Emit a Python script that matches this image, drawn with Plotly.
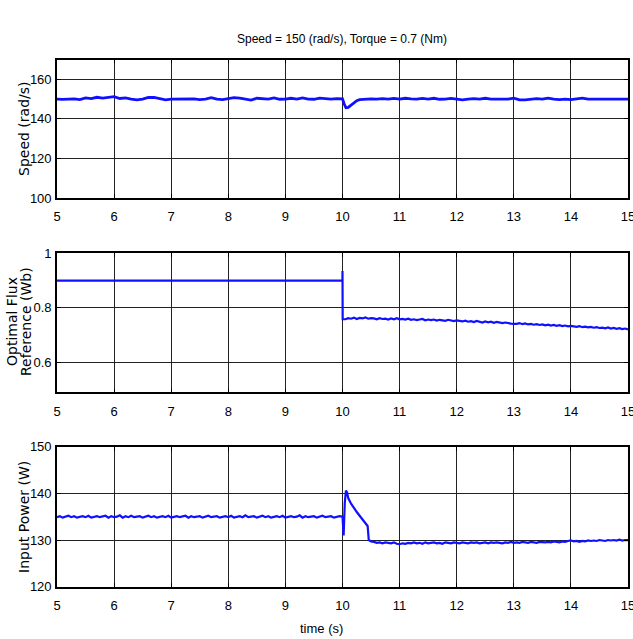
import numpy as np
import plotly.graph_objects as go
from plotly.subplots import make_subplots

# ---------------- data ----------------
title_text = "Speed = 150 (rad/s), Torque = 0.7 (Nm)"
x_ticks = [5, 6, 7, 8, 9, 10, 11, 12, 13, 14, 15]

speed_t_pre = [round(5.0 + 0.1 * i, 2) for i in range(50)]
speed_v_pre = [150.0, 149.8, 150.0, 150.1, 149.7, 150.6, 150.2, 150.9, 150.5, 150.8,
               151.2, 150.3, 150.6, 150.0, 149.6, 150.0, 150.8, 150.9, 150.2, 149.6,
               150.0, 150.0, 149.8, 150.0, 150.1, 149.7, 150.0, 150.7, 150.0, 149.7,
               150.2, 150.7, 150.5, 150.0, 149.5, 150.4, 150.3, 150.0, 150.6, 149.9,
               150.0, 150.4, 150.0, 150.6, 150.0, 149.9, 150.5, 150.2, 150.0, 150.2]
speed_t_evt = [10.0, 10.03, 10.06, 10.1, 10.15, 10.2, 10.25, 10.3, 10.4]
speed_v_evt = [150.1, 147.5, 145.6, 145.8, 146.8, 148.2, 149.2, 149.7, 150.0]
speed_t_post = [round(10.5 + 0.1 * i, 2) for i in range(46)]
speed_v_post = [150.1, 150.0, 150.2, 150.0, 150.3, 150.0, 150.4, 150.1, 150.0, 150.3,
                150.0, 150.4, 149.9, 150.0, 150.3, 150.0, 149.6, 150.0, 150.2, 150.0,
                150.4, 150.0, 150.0, 150.2, 150.0, 150.5, 149.6, 149.6, 150.0, 150.2,
                150.0, 150.5, 150.0, 149.7, 150.0, 149.7, 150.1, 150.5, 150.0, 150.0,
                150.3, 150.0, 150.0, 150.0, 150.0, 150.0]

flux_t_pre = [5.0, 9.999, 10.0, 10.003]
flux_v_pre = [0.9, 0.9, 0.935, 0.758]
flux_t_post = [round(10.05 + 0.05 * i, 3) for i in range(100)]
flux_v_post = [0.758, 0.762, 0.760, 0.764, 0.759, 0.763, 0.761, 0.765, 0.760, 0.762,
               0.761, 0.758, 0.762, 0.759, 0.760, 0.757, 0.761, 0.758, 0.762, 0.758,
               0.759, 0.757, 0.760, 0.756, 0.758, 0.755, 0.757, 0.759, 0.754, 0.757,
               0.755, 0.757, 0.753, 0.756, 0.754, 0.752, 0.756, 0.753, 0.751, 0.754,
               0.752, 0.750, 0.753, 0.749, 0.751, 0.748, 0.752, 0.749, 0.746, 0.750,
               0.747, 0.749, 0.745, 0.748, 0.746, 0.744, 0.746, 0.743, 0.742, 0.741,
               0.741, 0.744, 0.740, 0.743, 0.739, 0.741, 0.738, 0.740, 0.737, 0.739,
               0.736, 0.738, 0.735, 0.737, 0.734, 0.736, 0.733, 0.735, 0.732, 0.734,
               0.732, 0.730, 0.733, 0.729, 0.731, 0.728, 0.730, 0.727, 0.729, 0.726,
               0.727, 0.725, 0.728, 0.724, 0.726, 0.723, 0.725, 0.722, 0.724, 0.721]

power_t_pre = [round(5.0 + 0.05 * i, 3) for i in range(100)]
power_v_pre = [134.9, 135.1, 134.8, 135.0, 135.2, 134.9, 135.1, 134.8, 135.0, 135.1,
               134.9, 135.2, 134.8, 135.0, 135.1, 134.9, 135.0, 135.2, 134.8, 135.1,
               134.9, 135.0, 135.3, 134.8, 135.1, 134.9, 135.2, 134.9, 135.0, 135.1,
               134.8, 135.0, 135.2, 134.9, 135.1, 134.8, 135.0, 135.1, 134.9, 135.2,
               134.8, 135.0, 135.1, 134.9, 135.0, 135.2, 134.8, 135.1, 134.9, 135.0,
               135.1, 134.8, 135.0, 135.2, 134.9, 135.0, 135.1, 134.8, 135.0, 135.1,
               134.9, 135.2, 134.8, 135.0, 135.1, 134.9, 135.3, 134.9, 135.0, 135.1,
               134.8, 135.0, 135.2, 134.9, 135.1, 134.8, 135.0, 135.1, 134.9, 135.2,
               134.8, 135.0, 135.1, 134.9, 135.0, 135.3, 134.8, 135.1, 134.9, 135.0,
               135.1, 134.8, 135.0, 135.2, 134.9, 135.0, 135.1, 134.8, 135.0, 135.1]
power_t_evt = [10.0, 10.02, 10.04, 10.06, 10.08, 10.1, 10.15, 10.2, 10.25, 10.3,
               10.35, 10.4, 10.44, 10.46, 10.5]
power_v_evt = [135.0, 131.0, 138.0, 140.6, 140.2, 139.0, 137.8, 136.8, 136.0, 135.2,
               134.4, 133.6, 133.0, 130.0, 129.7]
power_t_post = [round(10.55 + 0.05 * i, 3) for i in range(90)]
power_v_post = [129.6, 129.4, 129.5, 129.3, 129.5, 129.4, 129.3, 129.5, 129.2, 129.1,
                129.3, 129.2, 129.4, 129.3, 129.5, 129.3, 129.4, 129.2, 129.5, 129.3,
                129.4, 129.5, 129.3, 129.4, 129.2, 129.5, 129.4, 129.3, 129.5, 129.4,
                129.3, 129.5, 129.4, 129.3, 129.5, 129.4, 129.5, 129.3, 129.4, 129.5,
                129.3, 129.5, 129.4, 129.5, 129.4, 129.3, 129.5, 129.4, 129.6, 129.4,
                129.5, 129.4, 129.6, 129.5, 129.4, 129.6, 129.5, 129.4, 129.6, 129.5,
                129.5, 129.6, 129.5, 129.7, 129.6, 129.5, 129.7, 129.6, 129.8, 129.9,
                129.7, 129.8, 129.6, 129.8, 129.7, 129.9, 129.8, 129.9, 129.8, 130.0,
                129.9, 129.8, 130.0, 129.9, 130.0, 129.9, 130.1, 129.9, 130.0, 130.0]

# ---------------- figure ----------------
W, H = 633, 639
L, R = 57, 5
line_color = "#1010ff"
narrow = "Liberation Sans Narrow, Liberation Sans, Arial, sans-serif"
wide = "DejaVu Sans, Verdana, sans-serif"

fig = make_subplots(rows=3, cols=1)

fig.add_trace(go.Scatter(x=speed_t_pre + speed_t_evt + speed_t_post,
                         y=speed_v_pre + speed_v_evt + speed_v_post,
                         mode="lines", line=dict(color=line_color, width=2.8),
                         showlegend=False), row=1, col=1)
fig.add_trace(go.Scatter(x=flux_t_pre + flux_t_post,
                         y=flux_v_pre + flux_v_post,
                         mode="lines", line=dict(color=line_color, width=2.2),
                         showlegend=False), row=2, col=1)
fig.add_trace(go.Scatter(x=power_t_pre + power_t_evt + power_t_post,
                         y=power_v_pre + power_v_evt + power_v_post,
                         mode="lines", line=dict(color=line_color, width=2.2),
                         showlegend=False), row=3, col=1)

def px_dom(top, bottom):
    return [1 - bottom / H, 1 - top / H]

domains = [px_dom(59.5, 198), px_dom(253.3, 392.3), px_dom(446.7, 586.7)]
yranges = [[100, 170], [0.49, 1.0], [120, 150]]
yticks = [[100, 120, 140, 160], [0.6, 0.8, 1.0], [120, 130, 140, 150]]
yticktext = [["100", "120", "140", "160"], ["0.6", "0.8", "1"], ["120", "130", "140", "150"]]

axis_common = dict(showline=True, linecolor="black", linewidth=1.6, mirror="ticks",
                   ticks="inside", ticklen=4, tickcolor="black", tickwidth=1,
                   showgrid=True, gridcolor="#222222", gridwidth=1, zeroline=False,
                   automargin=False, ticklabeloverflow="allow",
                   tickfont=dict(family=narrow, size=13, color="black"))

for i in range(3):
    n = "" if i == 0 else str(i + 1)
    fig.layout["xaxis" + n].update(domain=[0, 1], range=[5, 15], tickvals=x_ticks,
                                   ticklabelstandoff=6, **axis_common)
    fig.layout["yaxis" + n].update(domain=domains[i], range=yranges[i], tickvals=yticks[i],
                                   ticktext=yticktext[i], ticklabelstandoff=1, **axis_common)

def xpaper(px):
    return (px - L) / (W - L - R)

def ypaper(py):
    return 1 - py / H

ann = [
    dict(text=title_text, x=xpaper(342), y=ypaper(39), font=dict(family=narrow, size=12)),
    dict(text="time (s)", x=xpaper(321), y=ypaper(628), font=dict(family=narrow, size=13)),
    dict(text="Speed (rad/s)", x=xpaper(24), y=ypaper(129), textangle=-90,
         font=dict(family=wide, size=14)),
    dict(text="Optimal Flux", x=xpaper(12), y=ypaper(322), textangle=-90,
         font=dict(family=wide, size=14)),
    dict(text="Reference (Wb)", x=xpaper(26), y=ypaper(322), textangle=-90,
         font=dict(family=wide, size=14)),
    dict(text="Input Power (W)", x=xpaper(24), y=ypaper(517), textangle=-90,
         font=dict(family=wide, size=14)),
]
for a in ann:
    a.update(xref="paper", yref="paper", showarrow=False, xanchor="center", yanchor="middle")
    a["font"]["color"] = "black"

fig.update_layout(width=W, height=H, margin=dict(l=L, r=R, t=0, b=0),
                  paper_bgcolor="white", plot_bgcolor="white",
                  annotations=ann, showlegend=False)

fig.write_html("out.html", config={"displayModeBar": False},
               post_script="document.body.style.margin='0';document.body.style.overflow='hidden';")
